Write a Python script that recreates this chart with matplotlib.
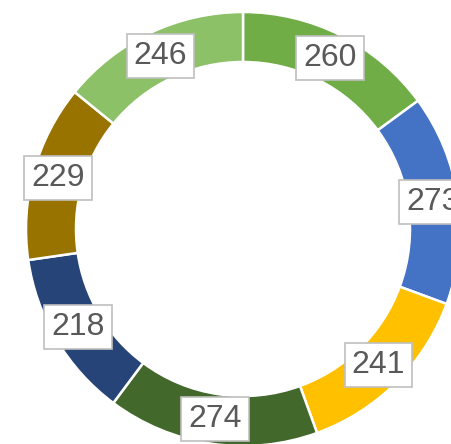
import numpy as np
import matplotlib.pyplot as plt

values = [260, 273, 241, 274, 218, 229, 246]
labels = ['260', '273', '241', '274', '218', '229', '246']
colors = ['#70AD47', '#4472C4', '#FFC000', '#43682B', '#264478', '#997300', '#8CC168']

fig = plt.figure(figsize=(4.52, 4.44), dpi=100)
ax = fig.add_axes([0, 0, 1, 1])

R = 217
ring = 50
cx, cy = 243, 444 - 229

wedges, _ = ax.pie(values, colors=colors, startangle=90, counterclock=False,
                   radius=R, center=(cx, cy),
                   wedgeprops=dict(width=ring, edgecolor='white', linewidth=1.8))

for w, lab in zip(wedges, labels):
    ang = np.deg2rad((w.theta1 + w.theta2) / 2)
    r = R - ring / 2
    ax.text(cx + r * np.cos(ang), cy + r * np.sin(ang), lab,
            ha='center', va='center', fontsize=23, color='#595959',
            family='Liberation Sans',
            bbox=dict(boxstyle='square,pad=0.22', fc='white', ec='#BFBFBF', lw=1.2))

ax.set_xlim(0, 452)
ax.set_ylim(0, 444)
ax.set_aspect('equal')
ax.axis('off')

fig.savefig('out.png', dpi=100)
